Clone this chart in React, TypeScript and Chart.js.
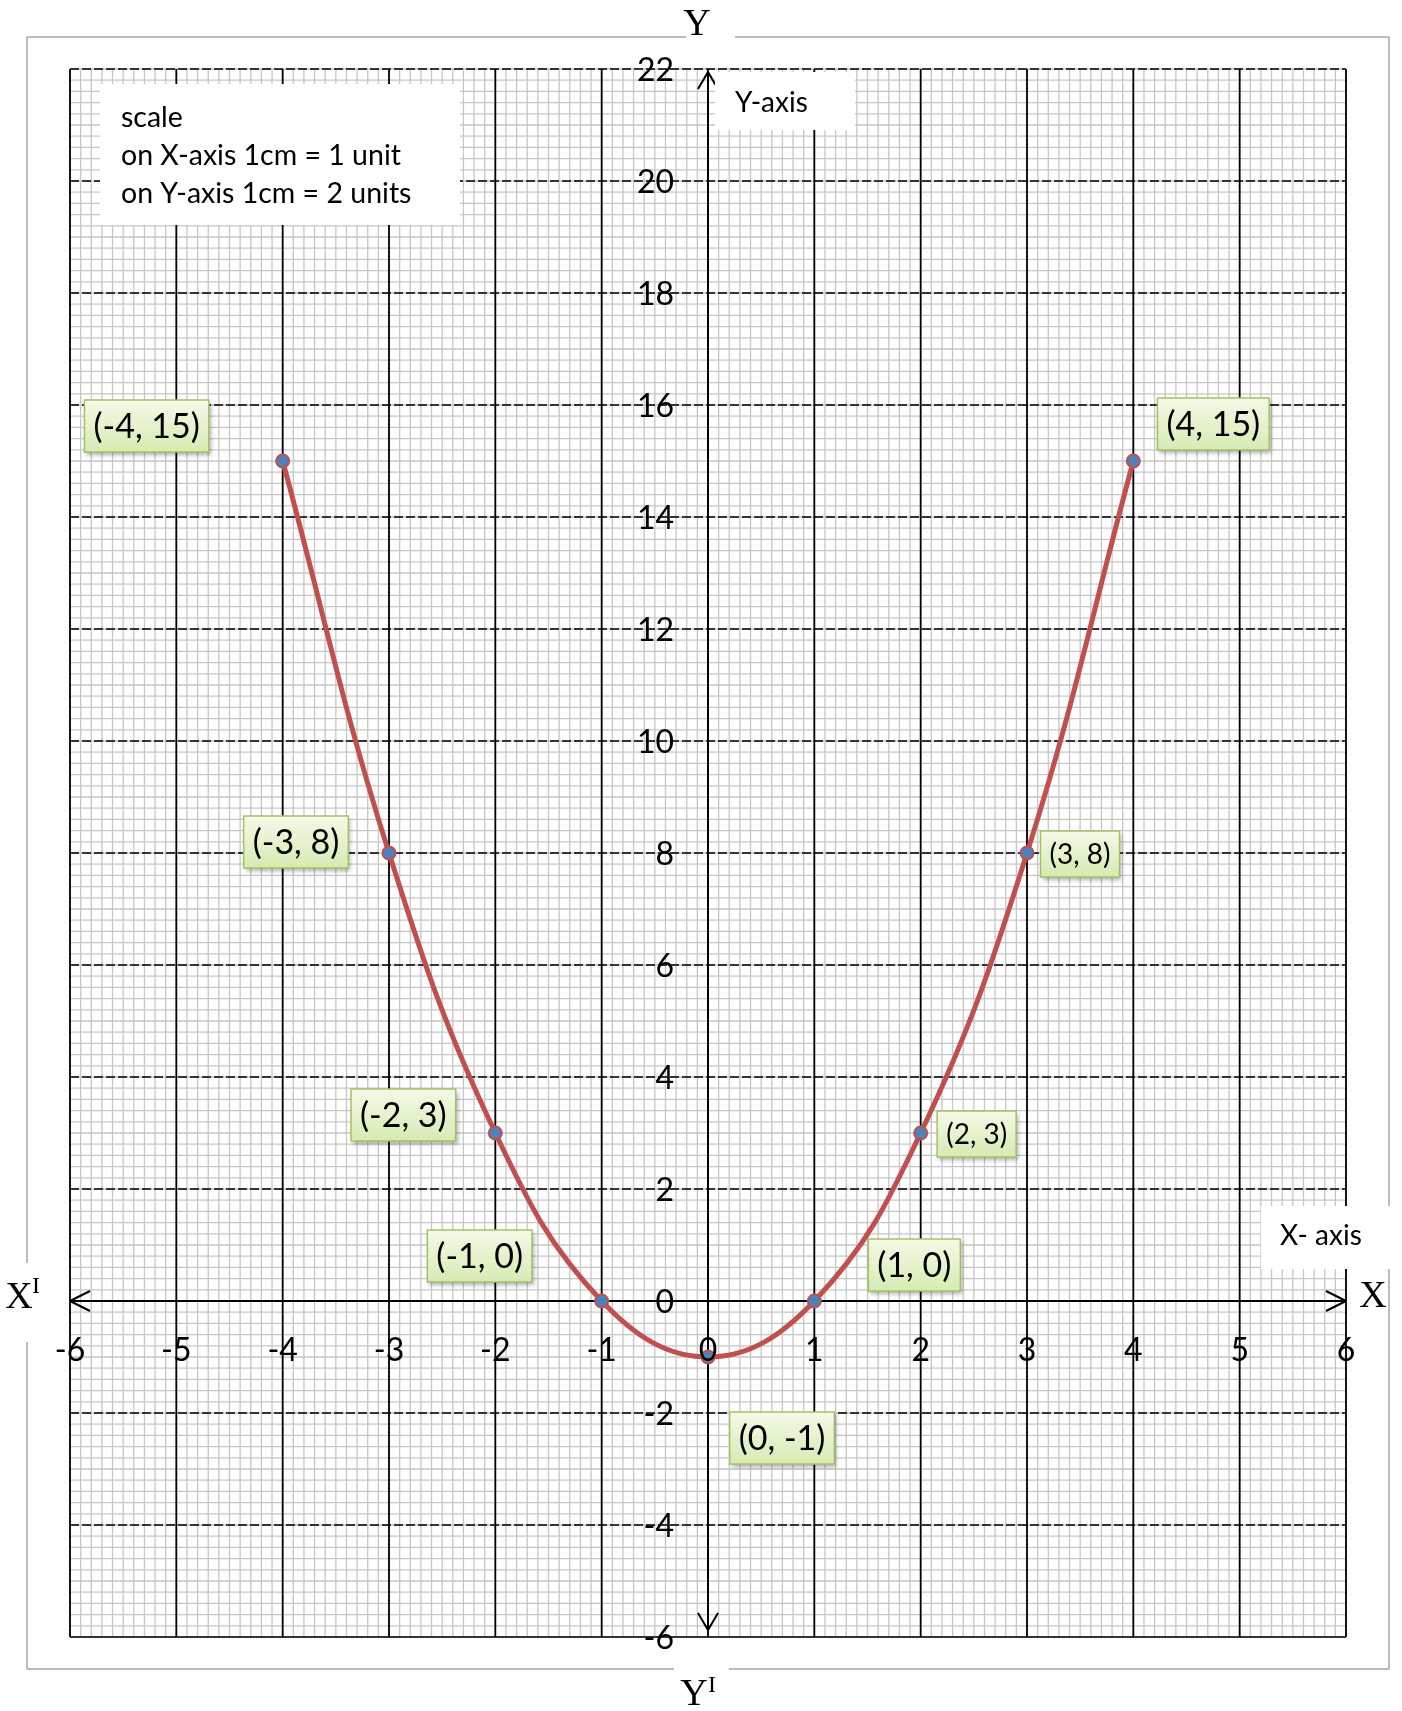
import React, { useEffect, useRef } from "react";
import { Chart, registerables } from "chart.js";

Chart.register(...registerables);

// y = x² − 1 sampled at the integer points that are plotted and labelled
const xValues = [-4, -3, -2, -1, 0, 1, 2, 3, 4];
const yValues = [15, 8, 3, 0, -1, 0, 3, 8, 15];
const pointLabels = ["(-4, 15)", "(-3, 8)", "(-2, 3)", "(-1, 0)", "(0, -1)", "(1, 0)", "(2, 3)", "(3, 8)", "(4, 15)"];

// axis ticks
const xTickValues = [-6, -5, -4, -3, -2, -1, 0, 1, 2, 3, 4, 5, 6];
const yTickValues = [-6, -4, -2, 0, 2, 4, 6, 8, 10, 12, 14, 16, 18, 20, 22];

const scaleNoteLines = ["scale", "on X-axis 1cm = 1 unit", "on Y-axis 1cm = 2 units"];

// callout placement: box centre offset (px) from its point, and text size
const calloutLayout = [
  { dx: -136, dy: -35, size: 34 },
  { dx: -93, dy: -11, size: 34 },
  { dx: -92, dy: -18, size: 34 },
  { dx: -122, dy: -45, size: 34 },
  { dx: 74, dy: 81, size: 34 },
  { dx: 100, dy: -36, size: 34 },
  { dx: 56, dy: 1, size: 28 },
  { dx: 53, dy: 1, size: 28 },
  { dx: 80, dy: -37, size: 34 },
];

const SANS = "Lato, 'Open Sans', sans-serif";
const SERIF = "'Liberation Serif', 'DejaVu Serif', serif";

function line(ctx: CanvasRenderingContext2D, x1: number, y1: number, x2: number, y2: number) {
  ctx.beginPath();
  ctx.moveTo(x1, y1);
  ctx.lineTo(x2, y2);
  ctx.stroke();
}

function whiteBox(ctx: CanvasRenderingContext2D, x: number, y: number, w: number, h: number) {
  ctx.fillStyle = "#ffffff";
  ctx.fillRect(x, y, w, h);
}

function drawCallout(ctx: CanvasRenderingContext2D, cx: number, cy: number, text: string, size: number) {
  ctx.font = `${size}px ${SANS}`;
  const tw = ctx.measureText(text).width;
  const w = tw + 18;
  const h = size >= 32 ? 52 : 46;
  const left = cx - w / 2;
  const top = cy - h / 2;
  ctx.save();
  ctx.shadowColor = "rgba(0,0,0,0.3)";
  ctx.shadowBlur = 4;
  ctx.shadowOffsetX = 2;
  ctx.shadowOffsetY = 3;
  const g = ctx.createLinearGradient(0, top, 0, top + h);
  g.addColorStop(0, "#f4fae8");
  g.addColorStop(1, "#d6ebb2");
  ctx.fillStyle = g;
  ctx.fillRect(left, top, w, h);
  ctx.restore();
  ctx.strokeStyle = "#a3c266";
  ctx.lineWidth = 1.5;
  ctx.strokeRect(left, top, w, h);
  ctx.fillStyle = "#000";
  ctx.textAlign = "center";
  ctx.textBaseline = "middle";
  ctx.fillText(text, cx, cy + 1);
}

const graphPaper = {
  id: "graphPaper",
  beforeDraw(chart: any) {
    const { ctx } = chart;
    // page frame, broken around the axis letters
    ctx.save();
    ctx.strokeStyle = "#a6a6a6";
    ctx.lineWidth = 1.5;
    line(ctx, 27, 37, 686, 37);
    line(ctx, 735, 37, 1389, 37);
    line(ctx, 1389, 37, 1389, 1669);
    line(ctx, 27, 1669, 674, 1669);
    line(ctx, 729, 1669, 1389, 1669);
    line(ctx, 27, 37, 27, 1263);
    line(ctx, 27, 1342, 27, 1669);
    ctx.restore();
  },
  beforeDatasetsDraw(chart: any) {
    const { ctx, chartArea: a, scales } = chart;
    const xs = scales.x;
    const ys = scales.y;
    ctx.save();

    // fine millimetre lines: 10 per x unit, 10 per 2 y units
    ctx.strokeStyle = "#c6c6c6";
    ctx.lineWidth = 1.3;
    const nx = Math.round((xs.max - xs.min) * 10);
    for (let i = 0; i <= nx; i++) {
      const px = xs.getPixelForValue(xs.min + i / 10);
      line(ctx, px, a.top, px, a.bottom);
    }
    const ny = Math.round((ys.max - ys.min) * 5);
    for (let i = 0; i <= ny; i++) {
      const py = ys.getPixelForValue(ys.min + i / 5);
      line(ctx, a.left, py, a.right, py);
    }

    // centimetre lines
    ctx.strokeStyle = "#000";
    ctx.lineWidth = 1.8;
    for (const v of xTickValues) {
      const px = xs.getPixelForValue(v);
      line(ctx, px, a.top, px, a.bottom);
    }
    ctx.lineWidth = 1.6;
    ctx.setLineDash([9, 3]);
    for (const v of yTickValues) {
      if (v === 0 || v === ys.min) continue;
      const py = ys.getPixelForValue(v);
      line(ctx, a.left, py, a.right, py);
    }
    ctx.setLineDash([]);
    line(ctx, a.left, a.bottom, a.right, a.bottom);

    // axes with open arrowheads
    const ox = xs.getPixelForValue(0);
    const oy = ys.getPixelForValue(0);
    ctx.lineWidth = 2;
    line(ctx, a.left, oy, a.right, oy);
    line(ctx, a.left, oy, a.left + 20, oy - 10);
    line(ctx, a.left, oy, a.left + 20, oy + 10);
    line(ctx, a.right, oy, a.right - 20, oy - 10);
    line(ctx, a.right, oy, a.right - 20, oy + 10);
    const yt = a.top + 3;
    const yb = a.bottom - 7;
    line(ctx, ox, yt, ox, yb);
    line(ctx, ox, yt, ox - 10, yt + 17);
    line(ctx, ox, yt, ox + 10, yt + 17);
    line(ctx, ox, yb, ox - 10, yb - 17);
    line(ctx, ox, yb, ox + 10, yb - 17);

    // text boxes
    whiteBox(ctx, a.left + 30, a.top + 15, 360, 141);
    whiteBox(ctx, ox + 7, a.top + 3, 140, 58);
    whiteBox(ctx, a.right - 85, oy - 95, 129, 63);

    ctx.fillStyle = "#000";
    ctx.textAlign = "left";
    ctx.textBaseline = "alphabetic";
    ctx.font = `28.5px ${SANS}`;
    scaleNoteLines.forEach((t, i) => ctx.fillText(t, a.left + 51, a.top + 58 + i * 38));
    ctx.font = `28px ${SANS}`;
    ctx.fillText("Y-axis", ox + 27, a.top + 43);
    ctx.fillText("X- axis", a.right - 66, oy - 56);
    ctx.restore();
  },
  afterDatasetsDraw(chart: any) {
    const { ctx, chartArea: a, scales } = chart;
    const xs = scales.x;
    const ys = scales.y;
    const ox = xs.getPixelForValue(0);
    const oy = ys.getPixelForValue(0);
    ctx.save();

    // tick numbers sitting on the axes
    ctx.fillStyle = "#000";
    ctx.font = `32px ${SANS}`;
    ctx.textBaseline = "alphabetic";
    ctx.textAlign = "center";
    for (const v of xTickValues) {
      ctx.fillText(String(v), xs.getPixelForValue(v), oy + 60);
    }
    ctx.textAlign = "right";
    for (const v of yTickValues) {
      ctx.fillText(String(v), ox - 34, ys.getPixelForValue(v) + 12);
    }

    // point callouts
    const meta = chart.getDatasetMeta(0);
    meta.data.forEach((pt: any, i: number) => {
      const lay = calloutLayout[i];
      drawCallout(ctx, pt.x + lay.dx, pt.y + lay.dy, pointLabels[i], lay.size);
    });

    // axis letters
    ctx.fillStyle = "#000";
    ctx.textBaseline = "alphabetic";
    ctx.textAlign = "center";
    ctx.font = `38px ${SERIF}`;
    ctx.fillText("Y", ox - 11, a.top - 34);
    ctx.fillText("Y", ox - 14, a.bottom + 68);
    ctx.fillText("X", a.right + 27, oy + 6);
    ctx.fillText("X", 19, oy + 7);
    ctx.font = `24px ${SERIF}`;
    ctx.textAlign = "left";
    ctx.fillText("I", ox, a.bottom + 55);
    ctx.fillText("I", 32, oy - 8);
    ctx.restore();
  },
};

export default function App() {
  const canvasRef = useRef<HTMLCanvasElement | null>(null);

  useEffect(() => {
    const canvas = canvasRef.current;
    if (!canvas) return;
    const points = xValues.map((x, i) => ({ x, y: yValues[i] }));
    const chart = new Chart(canvas, {
      type: "scatter",
      data: {
        datasets: [
          {
            data: points,
            showLine: true,
            tension: 0.4,
            borderColor: "#c0504d",
            borderWidth: 5,
            pointRadius: 6.5,
            pointBorderWidth: 2,
            pointBackgroundColor: "#4f81bd",
            pointBorderColor: "#c0504d",
            clip: false as any,
          },
        ],
      },
      options: {
        responsive: false,
        animation: false,
        events: [],
        layout: { padding: { left: 70, top: 69, right: 56, bottom: 74 } },
        scales: {
          x: { type: "linear", min: -6, max: 6, display: false },
          y: { type: "linear", min: -6, max: 22, display: false },
        },
        plugins: {
          legend: { display: false },
          tooltip: { enabled: false },
        },
      },
      plugins: [graphPaper],
    });
    return () => chart.destroy();
  }, []);

  return (
    <canvas
      ref={canvasRef}
      width={1402}
      height={1711}
      style={{ position: "absolute", left: 0, top: 0, display: "block" }}
    />
  );
}
